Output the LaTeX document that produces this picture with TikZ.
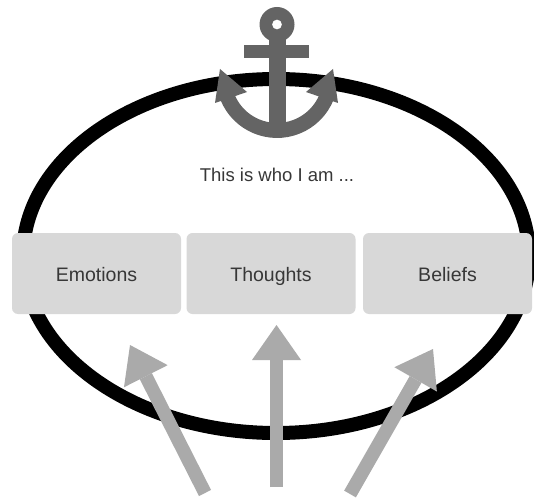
\documentclass[tikz,border=0pt]{standalone}
\usepackage{fontspec}
\setmainfont{Liberation Sans}
\usetikzlibrary{arrows.meta}
\definecolor{boxgray}{RGB}{216,216,216}
\definecolor{txtgray}{RGB}{55,55,55}
\definecolor{anchorgray}{RGB}{100,100,100}
\definecolor{arrowgray}{RGB}{170,170,170}
\begin{document}
\begin{tikzpicture}[x=1pt,y=-1pt,
  ringline/.style={draw=black,line width=14pt},
  facet/.style={fill=boxgray,rounded corners=6pt,minimum width=169pt,minimum height=81pt,inner sep=0pt,text height=15pt,text depth=0pt,text=txtgray,font=\fontsize{19.5pt}{22pt}\selectfont},
  titletext/.style={text=txtgray,font=\fontsize{18.5pt}{22pt}\selectfont,inner sep=0pt},
  anchorpart/.style={fill=anchorgray},
  uparrow/.style={draw=arrowgray,line width=13.5pt,-{Triangle[length=35pt,width=49pt,line width=0pt]}}]
\useasboundingbox (0,0) rectangle (534,502);
\fill[white] (0,0) rectangle (534,502);
% ring
\draw[ringline] (276,256) ellipse [x radius=253pt, y radius=177pt];
% anchor
\fill[anchorpart, even odd rule] (277,24.5) circle[radius=17.5pt] (277,24.5) circle[radius=5pt];
\fill[anchorpart] (244,45) rectangle (309,58);
\fill[anchorpart] (269,38) rectangle (286,128);
\draw[draw=anchorgray,line width=15pt] (227.4,97.0) arc[start angle=-158, end angle=-22, radius=53.5pt];
\fill[anchorpart] (220,69) -- (215,103) -- (247,92) -- cycle;
\fill[anchorpart] (333,69) -- (338,103) -- (306,92) -- cycle;
% title
\node[titletext, anchor=base] (title) at (277,182) {This is who I am ...};
% boxes
\node[facet] (emo) at (96.5,273.5) {Emotions};
\node[facet] (tho) at (271,273.5) {Thoughts};
\node[facet] (bel) at (447.5,273.5) {Beliefs};
% arrows
\coordinate (lt) at (205,493);
\coordinate (lh) at (130,345);
\coordinate (mt) at (276.5,487);
\coordinate (mh) at (276.5,325);
\coordinate (rt) at (350,494);
\coordinate (rh) at (433,349);
\draw[uparrow] (lt) -- (lh);
\draw[uparrow] (mt) -- (mh);
\draw[uparrow] (rt) -- (rh);
\end{tikzpicture}
\end{document}
